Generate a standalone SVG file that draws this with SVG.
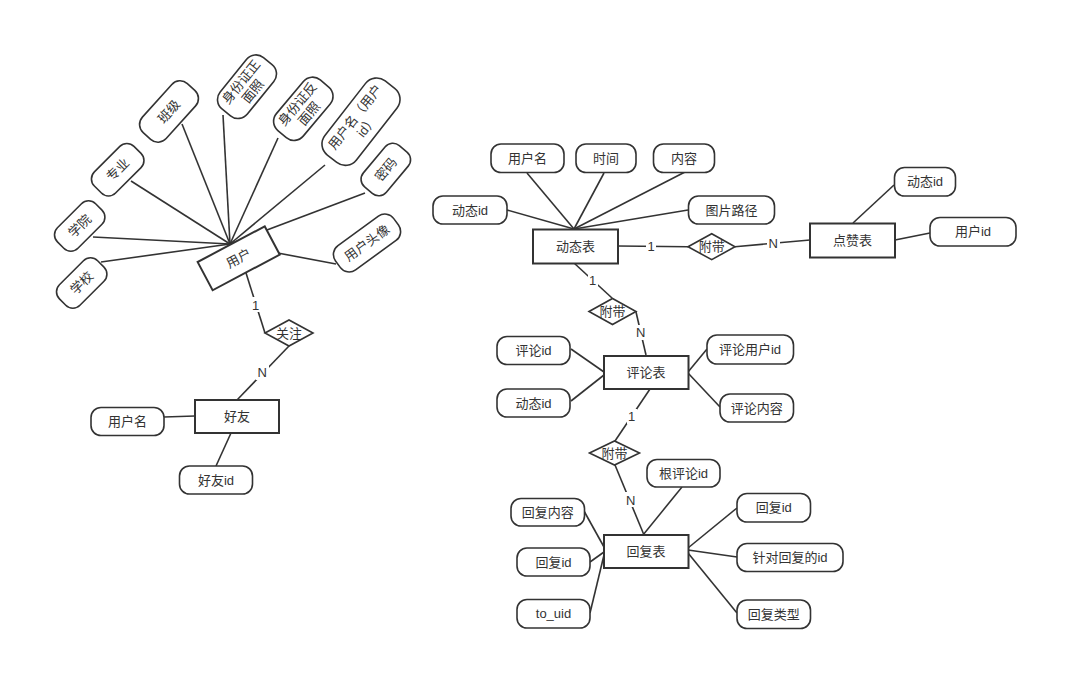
<svg xmlns="http://www.w3.org/2000/svg" width="1078" height="689" viewBox="0 0 1078 689">
<style>
.ln{stroke:#333;stroke-width:1.6;fill:none}
.attr{fill:#fff;stroke:#333;stroke-width:1.6}
.ent{fill:#fff;stroke:#333;stroke-width:2}
.rel{fill:#fff;stroke:#333;stroke-width:1.6}
.t{font-family:"Liberation Sans","Noto Sans CJK SC",sans-serif;font-size:13px;fill:#333;text-anchor:middle;dominant-baseline:central}
.lb{fill:#fff}
</style>
<rect width="1078" height="689" fill="#fff"/>
<g id="connectors">
<line class="ln" x1="230" y1="244" x2="101" y2="262"/>
<line class="ln" x1="230" y1="244" x2="93" y2="237"/>
<line class="ln" x1="230" y1="244" x2="131" y2="181"/>
<line class="ln" x1="230" y1="244" x2="182" y2="124"/>
<line class="ln" x1="230" y1="244" x2="223" y2="115"/>
<line class="ln" x1="230" y1="244" x2="278" y2="138"/>
<line class="ln" x1="230" y1="244" x2="325" y2="165"/>
<line class="ln" x1="230" y1="244" x2="365" y2="193"/>
<line class="ln" x1="230" y1="244" x2="336" y2="264"/>
<line class="ln" x1="246" y1="273" x2="265" y2="333"/>
<line class="ln" x1="289" y1="346" x2="237" y2="400"/>
<line class="ln" x1="164" y1="417" x2="195" y2="416"/>
<line class="ln" x1="216" y1="466" x2="231" y2="433"/>
<line class="ln" x1="574" y1="229" x2="527" y2="173"/>
<line class="ln" x1="574" y1="229" x2="604" y2="173"/>
<line class="ln" x1="574" y1="229" x2="685" y2="172"/>
<line class="ln" x1="574" y1="229" x2="507" y2="210"/>
<line class="ln" x1="574" y1="229" x2="688" y2="210"/>
<line class="ln" x1="618" y1="246" x2="688" y2="246.7"/>
<line class="ln" x1="735" y1="246.7" x2="810" y2="240"/>
<line class="ln" x1="853" y1="223" x2="894" y2="185"/>
<line class="ln" x1="895" y1="240" x2="930" y2="233"/>
<line class="ln" x1="574" y1="263" x2="612" y2="298"/>
<line class="ln" x1="636" y1="312" x2="646" y2="355"/>
<line class="ln" x1="571" y1="349" x2="604" y2="372"/>
<line class="ln" x1="571" y1="401" x2="604" y2="375"/>
<line class="ln" x1="707" y1="349" x2="688" y2="372"/>
<line class="ln" x1="720" y1="407" x2="688" y2="373"/>
<line class="ln" x1="650" y1="389" x2="615" y2="441"/>
<line class="ln" x1="615" y1="465" x2="644" y2="535"/>
<line class="ln" x1="682" y1="487" x2="643" y2="535"/>
<line class="ln" x1="584" y1="511" x2="604" y2="547"/>
<line class="ln" x1="590" y1="562" x2="604" y2="552"/>
<line class="ln" x1="590" y1="613" x2="604" y2="555"/>
<line class="ln" x1="737" y1="508" x2="688" y2="548"/>
<line class="ln" x1="737" y1="557" x2="688" y2="550"/>
<line class="ln" x1="737" y1="613" x2="688" y2="553"/>
<g id="card-labels">
<rect class="lb" x="251" y="297" width="10" height="15"/><text class="t" x="255.7" y="305">1</text>
<rect class="lb" x="256" y="365" width="13" height="15"/><text class="t" x="262.3" y="372.7">N</text>
<rect class="lb" x="646" y="239" width="10" height="15"/><text class="t" x="651" y="246.7">1</text>
<rect class="lb" x="767" y="236" width="13" height="15"/><text class="t" x="773.3" y="243.3">N</text>
<rect class="lb" x="588" y="273" width="10" height="15"/><text class="t" x="592.7" y="280.7">1</text>
<rect class="lb" x="634" y="325" width="13" height="15"/><text class="t" x="640.7" y="332.7">N</text>
<rect class="lb" x="627" y="409" width="10" height="15"/><text class="t" x="631.7" y="416.7">1</text>
<rect class="lb" x="624" y="492" width="13" height="15"/><text class="t" x="630.7" y="500">N</text>
</g>
</g>
<g id="user">
<g transform="translate(238.7,258.3) rotate(-28)"><rect class="ent" x="-38" y="-16" width="76" height="32"/><text class="t" x="0" y="0">用户</text></g>
</g>
<g id="attr-xuexiao"><g transform="translate(81.7,283) rotate(-45)"><rect class="attr" x="-27" y="-14.5" width="54" height="29" rx="10"/><text class="t" x="0" y="0">学校</text></g></g>
<g id="attr-xueyuan"><g transform="translate(79.7,226) rotate(-45)"><rect class="attr" x="-27" y="-14.5" width="54" height="29" rx="10"/><text class="t" x="0" y="0">学院</text></g></g>
<g id="attr-zhuanye"><g transform="translate(117.7,169.7) rotate(-45)"><rect class="attr" x="-28" y="-15" width="56" height="30" rx="10"/><text class="t" x="0" y="0">专业</text></g></g>
<g id="attr-banji"><g transform="translate(169,111.5) rotate(-48)"><rect class="attr" x="-33" y="-16" width="66" height="32" rx="11"/><text class="t" x="0" y="0">班级</text></g></g>
<g id="attr-idfront"><g transform="translate(247,86.7) rotate(-51)"><rect class="attr" x="-33" y="-17.5" width="66" height="35" rx="12"/><text class="t" x="0" y="-7.5">身份证正</text><text class="t" x="0" y="7.5">面照</text></g></g>
<g id="attr-idback"><g transform="translate(303.3,108.8) rotate(-50)"><rect class="attr" x="-33" y="-17.5" width="66" height="35" rx="12"/><text class="t" x="0" y="-7.5">身份证反</text><text class="t" x="0" y="7.5">面照</text></g></g>
<g id="attr-username"><g transform="translate(361,121.7) rotate(-52)"><rect class="attr" x="-47" y="-20" width="94" height="40" rx="14"/><text class="t" x="0" y="-7.5">用户名（用户</text><text class="t" x="0" y="7.5">id）</text></g></g>
<g id="attr-mima"><g transform="translate(385.8,169.5) rotate(-50)"><rect class="attr" x="-27" y="-15" width="54" height="30" rx="10"/><text class="t" x="0" y="0">密码</text></g></g>
<g id="attr-avatar"><g transform="translate(367,243) rotate(-36)"><rect class="attr" x="-36" y="-15" width="72" height="30" rx="11"/><text class="t" x="0" y="0">用户头像</text></g></g>
<g id="rel-guanzhu"><polygon class="rel" points="265,333 289,320 313,333 289,346"/><text class="t" x="289" y="333">关注</text></g>
<g id="friend"><rect class="ent" x="195" y="400" width="84" height="33"/><text class="t" x="237" y="416.5">好友</text></g>
<g id="friend-username"><rect class="attr" x="91" y="407.5" width="73" height="28" rx="10"/><text class="t" x="127.5" y="421.5">用户名</text></g>
<g id="friend-id"><rect class="attr" x="179.5" y="466" width="73" height="28" rx="10"/><text class="t" x="216" y="480">好友id</text></g>
<g id="post"><rect class="ent" x="533" y="229.5" width="85" height="34"/><text class="t" x="575.5" y="246.5">动态表</text></g>
<g id="post-username"><rect class="attr" x="491" y="144" width="73" height="28.5" rx="10"/><text class="t" x="527.5" y="158.3">用户名</text></g>
<g id="post-time"><rect class="attr" x="576" y="144" width="60" height="28.5" rx="10"/><text class="t" x="606" y="158.3">时间</text></g>
<g id="post-content"><rect class="attr" x="653.5" y="144" width="61" height="28.5" rx="10"/><text class="t" x="684" y="158.3">内容</text></g>
<g id="post-id"><rect class="attr" x="433" y="196" width="74" height="28" rx="10"/><text class="t" x="470" y="210">动态id</text></g>
<g id="post-image"><rect class="attr" x="688.5" y="196" width="86" height="28" rx="10"/><text class="t" x="731.5" y="210">图片路径</text></g>
<g id="rel-like"><polygon class="rel" points="688,246.7 711.7,233.7 735,246.7 711.7,259.7"/><text class="t" x="711.7" y="246.7">附带</text></g>
<g id="like"><rect class="ent" x="810" y="223.5" width="85" height="34"/><text class="t" x="852.5" y="240.5">点赞表</text></g>
<g id="like-postid"><rect class="attr" x="894.5" y="167.5" width="61" height="28.5" rx="10"/><text class="t" x="925" y="181.7">动态id</text></g>
<g id="like-userid"><rect class="attr" x="930" y="217.5" width="86" height="28.5" rx="10"/><text class="t" x="973" y="231.7">用户id</text></g>
<g id="rel-comment"><polygon class="rel" points="589,311.5 612.5,298.5 636,311.5 612.5,324.5"/><text class="t" x="612.5" y="311.5">附带</text></g>
<g id="comment"><rect class="ent" x="604" y="356" width="84.5" height="33"/><text class="t" x="646" y="372.5">评论表</text></g>
<g id="comment-id"><rect class="attr" x="497" y="336.5" width="73" height="28" rx="10"/><text class="t" x="533.5" y="350.5">评论id</text></g>
<g id="comment-postid"><rect class="attr" x="497" y="389" width="73" height="28" rx="10"/><text class="t" x="533.5" y="403">动态id</text></g>
<g id="comment-userid"><rect class="attr" x="707" y="335" width="86.5" height="29" rx="10"/><text class="t" x="750" y="349.5">评论用户id</text></g>
<g id="comment-content"><rect class="attr" x="720" y="394" width="73.5" height="28" rx="10"/><text class="t" x="756.7" y="408">评论内容</text></g>
<g id="rel-reply"><polygon class="rel" points="589.5,453 614.5,441 639.5,453 614.5,465"/><text class="t" x="614.5" y="453">附带</text></g>
<g id="reply"><rect class="ent" x="604" y="535" width="84.5" height="33"/><text class="t" x="646" y="551.5">回复表</text></g>
<g id="reply-rootid"><rect class="attr" x="647" y="459.5" width="73" height="27.5" rx="10"/><text class="t" x="683.5" y="473">根评论id</text></g>
<g id="reply-content"><rect class="attr" x="511" y="498.5" width="73.5" height="27.5" rx="10"/><text class="t" x="547.7" y="512">回复内容</text></g>
<g id="reply-id-left"><rect class="attr" x="517" y="548" width="73" height="28" rx="10"/><text class="t" x="553.5" y="562">回复id</text></g>
<g id="reply-touid"><rect class="attr" x="517" y="599.5" width="73" height="28.5" rx="10"/><text class="t" x="553.5" y="613.7">to_uid</text></g>
<g id="reply-id-right"><rect class="attr" x="737" y="493.5" width="73.5" height="28.5" rx="10"/><text class="t" x="773.7" y="507.7">回复id</text></g>
<g id="reply-target"><rect class="attr" x="737" y="543.5" width="106" height="28" rx="10"/><text class="t" x="790" y="557.5">针对回复的id</text></g>
<g id="reply-type"><rect class="attr" x="737" y="600" width="73.5" height="28.5" rx="10"/><text class="t" x="773.7" y="614.2">回复类型</text></g>
</svg>
